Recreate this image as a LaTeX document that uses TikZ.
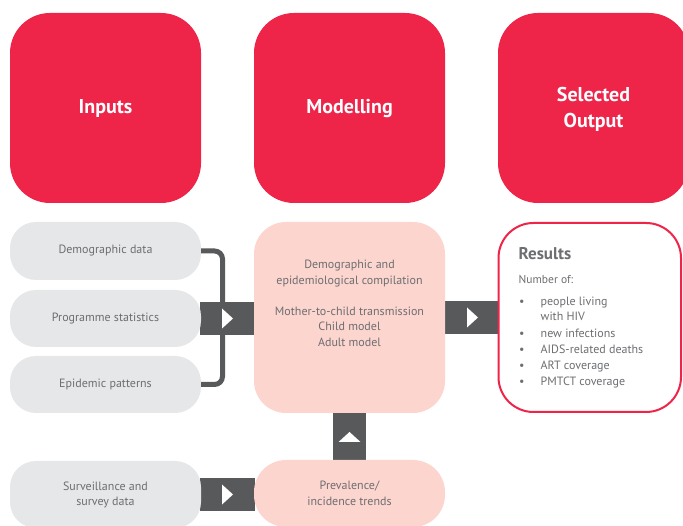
\documentclass[tikz,border=0pt]{standalone}
\usepackage{fontspec}
\setmainfont{PT Sans}
\usetikzlibrary{calc}
\definecolor{hred}{HTML}{EE2449}
\definecolor{hgray}{HTML}{E6E7E8}
\definecolor{hpink}{HTML}{FCD5CE}
\definecolor{hdark}{HTML}{58595B}
\definecolor{htext}{HTML}{6D6E71}
\begin{document}
\begin{tikzpicture}[x=1pt,y=-1pt,
  head/.style={fill=hred, rounded corners=40pt, minimum width=191pt, minimum height=190pt,
    inner sep=0pt},
  headtext/.style={text=white, font=\bfseries\fontsize{20}{26}\selectfont, align=center, inner sep=0pt},
  inbox/.style={fill=hgray, rounded corners=26pt, minimum width=191pt, inner sep=0pt,
    text=htext, font=\fontsize{12}{15}\selectfont, align=center},
  pinkbox/.style={fill=hpink, rounded corners=32pt, minimum width=191pt, inner sep=0pt,
    text=htext, font=\fontsize{12}{15.5}\selectfont, align=center},
  resbox/.style={draw=hred, line width=2pt, fill=white, rounded corners=35pt,
    minimum width=182.5pt, minimum height=189pt, inner sep=0pt},
  bar/.style={draw=hdark, line width=33pt},
  bracket/.style={draw=hdark, line width=5pt, rounded corners=8pt},
  restext/.style={anchor=base west, inner sep=0pt, text=htext, font=\fontsize{12}{14}\selectfont},
  tri right/.pic={\fill[white] (-5.5,-10) -- (5.5,0) -- (-5.5,10) -- cycle;},
  tri up/.pic={\fill[white] (-11,5) -- (0,-5) -- (11,5) -- cycle;}
]
\useasboundingbox (0,0) rectangle (683,526);

% headers
\node[head] (hin) at (105.5,108) {};
\node[head] (hmod) at (349.5,108) {};
\node[head] (hout) at (593.5,108) {};
\node[headtext] at (105.5,109) {Inputs};
\node[headtext] at (349.5,109) {Modelling};
\node[headtext] at (593.5,109.5) {Selected\\Output};

% connectors (drawn first, behind boxes)
\coordinate (progE) at (200,318.5);
\coordinate (modW) at (255,318.5);
\draw[bar] (progE) -- (modW);
\draw[bar] (444,317.5) coordinate (modE) -- (498,317.5) coordinate (resW);
\draw[bar] (349.5,461) coordinate (prevN) -- (349.5,412) coordinate (modS);
\draw[bar] (200,494.5) coordinate (survE) -- (255,494.5) coordinate (prevW);

% input boxes
\node[inbox, minimum height=58pt] (demo) at (105.5,251) {Demographic data};
\node[inbox, minimum height=57pt] (prog) at (105.5,318.5) {Programme statistics};
\node[inbox, minimum height=57pt] (epi) at (105.5,384.5) {Epidemic patterns};
\node[inbox, minimum height=67pt] (surv) at (105.5,494.5) {Surveillance and\\survey data};

\draw[bracket] (demo.east) -- (222.5,251) |- (epi.east);

% modelling boxes
\node[pinkbox, minimum height=191pt] (model) at (349.5,317.5) {};
\node[pinkbox, fill=none, minimum width=0pt] (modtext) at (349.5,303.5)
  {Demographic and\\epidemiological compilation\\[15.5pt]Mother-to-child transmission\\Child model\\Adult model};
\node[pinkbox, minimum height=67pt] (prev) at (349.5,493.5) {Prevalence/\\incidence trends};

% results
\node[resbox] (res) at (589.75,317.5) {};
\node[restext, font=\bfseries\fontsize{17}{20}\selectfont] (rtitle) at (518.5,260) {Results};
\node[restext, font=\fontsize{11.5}{14}\selectfont] (rnum) at (518.5,284) {Number of:};
\foreach \yy/\tt/\b in {306/people living/1, 321/with HIV/0, 338/new infections/1,
    354/AIDS-related deaths/1, 370/ART coverage/1, 386/PMTCT coverage/1}{
  \ifnum\b=1 \node[restext] at (519,\yy) {•};\fi
  \node[restext] at (540.5,\yy) {\tt};
}

% triangles on bars
\pic at (227.5,318.5) {tri right};
\pic at (472.5,317.5) {tri right};
\pic at (349.5,437) {tri up};
\pic at (227.5,494.5) {tri right};
\end{tikzpicture}
\end{document}
